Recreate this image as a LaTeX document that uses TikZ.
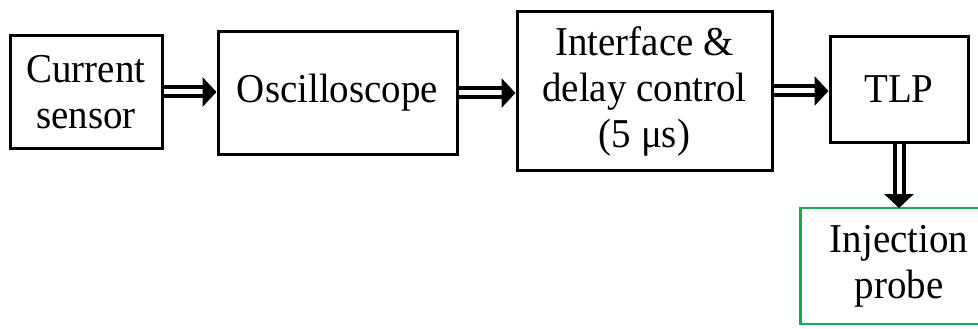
\documentclass[tikz,border=0pt]{standalone}
\usepackage{fontspec}
\setmainfont{Liberation Serif}[FakeStretch=0.95]
\usetikzlibrary{arrows.meta}
\definecolor{probegreen}{RGB}{20,170,80}
\begin{document}
\begin{tikzpicture}[x=1pt,y=-1pt,line width=3pt,
  every node/.style={font=\fontsize{41}{46}\selectfont,inner sep=0pt,align=center},
  block/.style={draw,line width=3pt},
  flow/.style={double,line width=4pt,double distance=5pt,-{Triangle[length=14pt,width=29pt]}}]
\useasboundingbox (0,0) rectangle (978,329);
\node[block,minimum width=152pt,minimum height=112pt] (sensor) at (86,92) {Current\\sensor};
\node[block,minimum width=239pt,minimum height=122pt] (osc) at (337.5,93) {Oscilloscope};
\node[block,minimum width=255pt,minimum height=158pt] (iface) at (644.5,91) {Interface \&\\delay control\\(5 μs)};
\node[block,minimum width=138pt,minimum height=105pt] (tlp) at (899,89.5) {TLP};
\node[minimum width=194pt,minimum height=113pt] (probe) at (899,266) {Injection\\probe};
% probe box runs off the right side
\draw[probegreen,line width=2.5pt] (probe.north east) -- (probe.north west) -- (probe.south west) -- (probe.south east);
\draw[flow] (sensor.east) -- (sensor.east -| osc.west);
\draw[flow] (osc.east) -- (osc.east -| iface.west);
\draw[flow] (iface.east) -- (iface.east -| tlp.west);
\draw[flow] (tlp.south) -- (tlp.south |- probe.north);
\end{tikzpicture}
\end{document}
